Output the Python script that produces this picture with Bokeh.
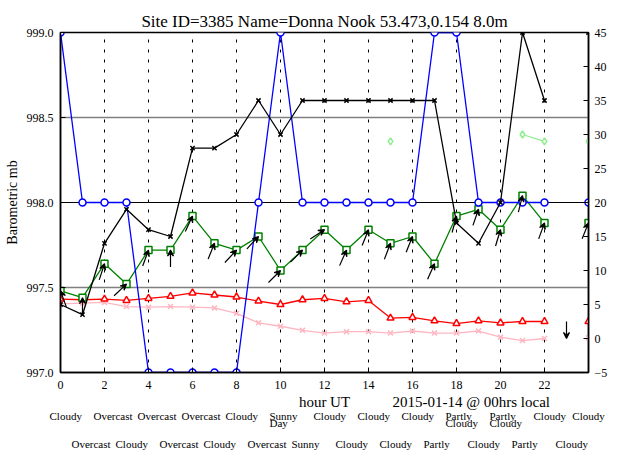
import math
from bokeh.plotting import figure
from bokeh.models import (Range1d, LinearAxis, FixedTicker, PrintfTickFormatter,
                          Arrow, VeeHead, ColumnDataSource, Span)
from bokeh.embed import file_html
from bokeh.resources import INLINE

nan = float("nan")

# ---------------- data ----------------
hours = list(range(25))          # 0..24 (hour 23 missing)
baro_mb = [999.0, 998.0, 998.0, 998.0, 997.0, 997.0, 997.0, 997.0, 997.0, 998.0, 999.0, 998.0,
           998.0, 998.0, 998.0, 998.0, 998.0, 999.0, 999.0, 998.0, 998.0, 998.0, 998.0, nan, 998.0]
gust_mph = [5, 3.5, 14, 19, 16, 15, 28, 28, 30, 35, 30, 35,
            35, 35, 35, 35, 35, 35, 17, 14, 20, 45, 35, nan, 45]
wind_mph = [7, 6, 11, 8, 13, 13, 18, 14, 13, 15, 10, 13,
            16, 13, 16, 14, 15, 11, 18, 19, 16, 21, 17, nan, 17]
temp_c = [5.8, 5.7, 5.8, 5.6, 5.9, 6.2, 6.7, 6.4, 6.1, 5.5, 5.0, 5.7,
          5.9, 5.4, 5.6, 3.0, 3.1, 2.6, 2.2, 2.6, 2.3, 2.5, 2.5, nan, 2.5]
dew_c = [5.1, 5.2, 5.3, 4.7, 4.6, 4.7, 4.6, 4.5, 3.7, 2.3, 1.8, 1.2,
         0.8, 1.0, 1.0, 0.8, 1.1, 0.8, 0.8, 1.1, 0.2, -0.3, 0.0, nan, 0.1]
extra = [nan] * 15 + [29] + [nan] * 5 + [30, 29, nan, 29]
# wind arrows: speed anchor and arrow heading (deg clockwise from up)
arrow_speed = [7, 6, 11, 8, 13, 13, 18, 14, 13, 15, 10, 13,
               16, 13, 16, 14, 15, 11, 18, 19, 16, 21, 17, 0, 17]
arrow_dir = [340, 0, 18, 47, 20, 0, 25, 22, 43, 43, 45, 45,
             57, 24, 22, 21, 22, 24, 15, 19, 17, 14, 20, 180, 22]
weather = ["Cloudy", "Overcast", "Overcast", "Cloudy", "Overcast", "Overcast", "Overcast",
           "Cloudy", "Cloudy", "Overcast", "Sunny\nDay", "Sunny\nDay", "Cloudy", "Cloudy",
           "Cloudy", "Cloudy", "Cloudy", "Partly\nCloudy", "Partly\nCloudy", "Cloudy",
           "Partly\nCloudy", "Partly\nCloudy", "Cloudy", "Cloudy", "Cloudy"]
title_text = "Site ID=3385 Name=Donna Nook 53.473,0.154 8.0m"
x_label = "hour UT"
date_label = "2015-01-14 @ 00hrs local"
x_ticks = list(range(0, 23, 2))
left_ticks = [997.0, 997.5, 998.0, 998.5, 999.0]
right_ticks = list(range(-5, 50, 5))

FONT = "Liberation Serif"
FW, FH = 528, 340
PX_PER_H = FW / 24.0

# approximate Times advance widths (em) for placing left-aligned word labels
CW = {"C": .667, "l": .278, "o": .5, "u": .5, "d": .5, "y": .5, "O": .722, "v": .5,
      "e": .444, "r": .333, "c": .444, "a": .444, "s": .389, "t": .278, "S": .556,
      "n": .5, "D": .722, "P": .556, " ": .25}


def text_w(s, size):
    return sum(CW.get(ch, .5) for ch in s) * size


p = figure(width=618, height=452, x_range=Range1d(0, 24), y_range=Range1d(997, 999),
           output_backend="svg", toolbar_location=None,
           min_border_left=60, min_border_right=30, min_border_top=32, min_border_bottom=80)
p.extra_y_ranges = {"right": Range1d(-5, 45)}
p.background_fill_color = "white"
p.border_fill_color = "white"
p.outline_line_color = "black"
p.outline_line_width = 1.5

# title
p.title.text = title_text
p.title.text_font = FONT
p.title.text_font_size = "17px"
p.title.text_font_style = "normal"
p.title.text_color = "black"
p.title.align = "center"
p.title.standoff = 3

# axes
p.xaxis.ticker = FixedTicker(ticks=x_ticks)
p.yaxis.ticker = FixedTicker(ticks=left_ticks)
p.yaxis.formatter = PrintfTickFormatter(format="%.1f")
p.yaxis.axis_label = "Barometric mb"
p.yaxis.axis_label_text_font = FONT
p.yaxis.axis_label_text_font_size = "14px"
p.yaxis.axis_label_text_font_style = "normal"
p.yaxis.axis_label_text_color = "black"
p.yaxis.axis_label_standoff = 4
rax = LinearAxis(y_range_name="right", ticker=FixedTicker(ticks=right_ticks))
p.add_layout(rax, "right")
for ax in [p.xaxis[0], p.yaxis[0], rax]:
    ax.major_tick_in = 5
    ax.major_tick_out = 0
    ax.minor_tick_line_color = None
    ax.axis_line_color = "black"
    ax.axis_line_width = 1.5
    ax.major_tick_line_color = "black"
    ax.major_label_text_font = FONT
    ax.major_label_text_font_size = "12px"
    ax.major_label_text_color = "black"
p.xaxis.major_label_standoff = 8
p.yaxis.major_label_standoff = 7
rax.major_label_standoff = 6


def text_axis(ticks, labels, size, standoff):
    ax = LinearAxis(ticker=FixedTicker(ticks=ticks),
                    major_label_overrides=dict(zip(ticks, labels)))
    ax.axis_line_color = None
    ax.major_tick_line_color = None
    ax.minor_tick_line_color = None
    ax.major_tick_in = 0
    ax.major_tick_out = 0
    ax.major_label_text_font = FONT
    ax.major_label_text_font_size = f"{size}px"
    ax.major_label_text_color = "black"
    ax.major_label_standoff = standoff
    p.add_layout(ax, "below")


# x axis title + date annotation row
date_left = 15.12
text_axis([12.0, date_left + text_w(date_label, 15) / 2 / PX_PER_H],
          [x_label, date_label], 15, 2)

# weather rows (labels left-aligned at hour - 0.5)
rows = {(0, 0): ([], []), (0, 1): ([], []), (1, 0): ([], [])}
for h, w in zip(hours, weather):
    for k, ln in enumerate(w.split("\n")):
        key = (h % 2, k)
        if key not in rows:
            continue
        c = h - 0.5 + text_w(ln, 11) / 2 / PX_PER_H
        rows[key][0].append(min(c, 24.0))
        rows[key][1].append(ln)
text_axis(rows[(0, 0)][0], rows[(0, 0)][1], 11, -3)
text_axis(rows[(0, 1)][0], rows[(0, 1)][1], 11, -8)
text_axis(rows[(1, 0)][0], rows[(1, 0)][1], 11, 6)

# grids
p.xgrid.ticker = FixedTicker(ticks=list(range(2, 23, 2)))
p.xgrid.grid_line_color = "black"
p.xgrid.grid_line_dash = "3 7"
p.xgrid.grid_line_width = 1
p.ygrid.ticker = FixedTicker(ticks=[997.5, 998.5])
p.ygrid.grid_line_color = "#808080"
p.ygrid.grid_line_width = 1.5
p.add_layout(Span(location=998.0, dimension="width", line_color="black", line_width=1,
                  level="underlay"))

src = ColumnDataSource(dict(h=hours, baro=baro_mb, gust=gust_mph, wind=wind_mph,
                            temp=temp_c, dew=dew_c, extra=extra))

# series
p.line("h", "dew", source=src, y_range_name="right", color="#ffb6c1", line_width=1.3)
p.scatter("h", "dew", source=src, y_range_name="right", marker="x", size=7,
          line_color="#ffb6c1", line_width=1.5)
p.line("h", "temp", source=src, y_range_name="right", color="red", line_width=1.3)
p.scatter("h", "temp", source=src, y_range_name="right", marker="triangle", size=7,
          line_color="red", fill_color="white", line_width=1.5)
p.line("h", "wind", source=src, y_range_name="right", color="green", line_width=1.3)
p.scatter("h", "wind", source=src, y_range_name="right", marker="square", size=7,
          line_color="green", fill_color="white", line_width=1.5)
p.line("h", "baro", source=src, color="blue", line_width=1.3)
p.scatter("h", "baro", source=src, marker="circle", size=7,
          line_color="blue", fill_color="white", line_width=1.5)
p.line("h", "gust", source=src, y_range_name="right", color="black", line_width=1.3)
p.scatter("h", "gust", source=src, y_range_name="right", marker="x", size=6,
          line_color="black", line_width=1.5)
p.line("h", "extra", source=src, y_range_name="right", color="#90ee90", line_width=1.3)
p.scatter("h", "extra", source=src, y_range_name="right", marker="diamond", size=7,
          line_color="#90ee90", fill_color="white", line_width=1.5)

# wind arrows
L = 17.0
x0, y0 = [], []
for h, v, a in zip(hours, arrow_speed, arrow_dir):
    r = math.radians(a)
    x0.append(h - L * math.sin(r) / PX_PER_H)
    y0.append(v - L * math.cos(r) / (FH / 50.0))
asrc = ColumnDataSource(dict(x0=x0, y0=y0, x1=hours, y1=arrow_speed))
p.add_layout(Arrow(end=VeeHead(size=6, line_width=1.2, line_color="black"),
                   x_start="x0", y_start="y0", x_end="x1", y_end="y1", source=asrc,
                   line_width=1.2, line_color="black", y_range_name="right"))

open("out.html", "w").write(file_html(p, INLINE))
